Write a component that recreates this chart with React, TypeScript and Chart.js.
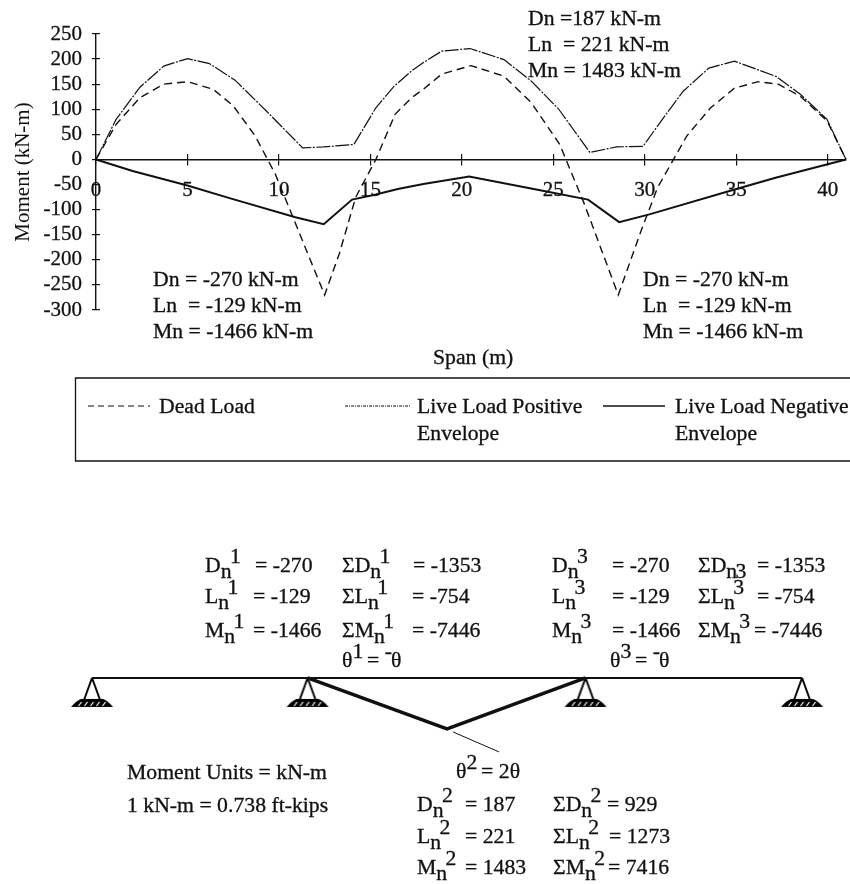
import React, { useEffect, useRef } from "react";
import { Chart, registerables } from "chart.js";

Chart.register(...registerables);

// ---- Moment diagram data (x = span in m, y = moment in kN-m) ----
const deadX = [0, 1.1, 2.4, 3.7, 5, 6.4, 7.5, 8.7, 9.8, 10.7, 11.5, 12.5, 13.3, 14.2, 15.3, 16.35, 17.25, 17.9, 18.9, 20.5, 22.3, 23.8, 25.35, 26.7, 28.55, 29.8, 30.7, 32.3, 33.6, 34.9, 36.2, 37.3, 38.5, 39.96, 41];
const deadY = [0, 70, 123, 150, 155, 140, 107, 47, -29, -109, -181, -270, -188, -75, 0, 90, 123, 140, 170, 187, 166, 113, 30, -89, -270, -142, -56, 47, 103, 142, 155, 150, 126, 77, 0];
const livePosX = [0, 1.1, 2.4, 3.7, 5, 6.2, 7.6, 9.3, 11.3, 12.45, 14.1, 15.3, 16.3, 17.3, 17.9, 18.9, 20.45, 22.3, 23.8, 25.3, 27, 28.45, 29.9, 31.1, 32.1, 33.5, 34.9, 37.2, 38.5, 39.96, 41];
const livePosY = [0, 80, 144, 186, 201, 191, 158, 97, 23, 25, 30, 103, 146, 178, 193, 216, 221, 199, 156, 100, 14, 25, 26, 87, 136, 182, 196, 165, 130, 80, 0];
const liveNegX = [0, 2, 5, 7.3, 10.9, 12.45, 14, 15.3, 16.5, 17.9, 20.4, 24.35, 26.9, 28.6, 30.3, 35, 37.2, 41];
const liveNegY = [0, -23, -52, -77, -115, -129, -80, -70, -59, -49, -34, -62, -80, -125, -109, -59, -36, 0];

const seriesNames = ["Dead Load", "Live Load Positive Envelope", "Live Load Negative Envelope"];
const legendLines = [["Dead Load"], ["Live Load Positive", "Envelope"], ["Live Load Negative", "Envelope"]];

// ---- Beam mechanism data (x = m along the beam, y = relative rotation drop) ----
const beamX = [0, 41];
const beamY = [0, 0];
const hingeX = [12.45, 20.5, 28.5];
const hingeY = [0, -1, 0];
const leaderX = [20.85, 23.5];
const leaderY = [-1.06, -1.45];
const supportX = [0, 12.45, 28.5, 41];
const supportY = [0, 0, 0, 0];

// ---- Annotations: [markup, left px, baseline px]; _x lowers a character, ^x raises it ----
const topNotes: [string, number, number][] = [
  ["Dn =187 kN-m", 528, 25],
  ["Ln  = 221 kN-m", 528, 51],
  ["Mn = 1483 kN-m", 528, 77],
  ["Dn = -270 kN-m", 153, 286],
  ["Ln  = -129 kN-m", 153, 312],
  ["Mn = -1466 kN-m", 153, 338],
  ["Dn = -270 kN-m", 643, 286],
  ["Ln  = -129 kN-m", 643, 312],
  ["Mn = -1466 kN-m", 643, 338],
];
const lowerNotes: [string, number, number][] = [
  ["D_n^1", 205, 572], ["= -270", 255, 572], ["ΣD_n^1", 342, 572], ["= -1353", 413, 572],
  ["L_n^1", 205, 603], ["= -129", 253, 603], ["ΣL_n^1", 342, 603], ["= -754", 412, 603],
  ["M_n^1", 205, 637], ["= -1466", 253, 637], ["ΣM_n^1", 342, 637], ["= -7446", 412, 637],
  ["θ^1 = ^-θ", 342, 667],
  ["D_n^3", 552, 572], ["= -270", 612, 572], ["ΣD_n_3", 698, 572], ["= -1353", 757, 572],
  ["L_n^3", 552, 603], ["= -129", 612, 603], ["ΣL_n^3", 698, 603], ["= -754", 757, 603],
  ["M_n^3", 552, 637], ["= -1466", 612, 637], ["ΣM_n^3", 698, 637], ["= -7446", 754, 637],
  ["θ^3 = ^-θ", 610, 667],
  ["Moment Units = kN-m", 127, 779],
  ["1 kN-m = 0.738 ft-kips", 127, 812],
  ["θ^2 = 2θ", 456, 778],
  ["D_n^2", 417, 811], ["= 187", 465, 811], ["ΣD_n^2", 553, 811], ["= 929", 607, 811],
  ["L_n^2", 417, 843], ["= 221", 465, 843], ["ΣL_n^2", 553, 843], ["= 1273", 609, 843],
  ["M_n^2", 417, 874], ["= 1483", 465, 874], ["ΣM_n^2", 553, 874], ["= 7416", 608, 874],
];

const INK = "#111111";
const SERIF = '"Liberation Serif", "Times New Roman", serif';
const FONT = `20.5px ${SERIF}`;
const STRETCH = 1.06;

function drawRich(ctx: CanvasRenderingContext2D, text: string, x: number, y: number) {
  ctx.font = FONT;
  ctx.fillStyle = INK;
  ctx.strokeStyle = INK;
  ctx.lineWidth = 0.3;
  ctx.textAlign = "left";
  ctx.textBaseline = "alphabetic";
  let cx = x;
  for (let i = 0; i < text.length; i++) {
    let ch = text[i];
    let dy = 0;
    if ((ch === "_" || ch === "^") && i + 1 < text.length) {
      dy = ch === "_" ? 6 : -9;
      i++;
      ch = text[i];
    }
    ctx.save();
    ctx.translate(cx, y + dy);
    ctx.scale(STRETCH, 1);
    ctx.fillText(ch, 0, 0);
    ctx.strokeText(ch, 0, 0);
    ctx.restore();
    cx += ctx.measureText(ch).width * STRETCH * (dy !== 0 ? 0.85 : 1);
  }
}

const dashDead = [8, 5];
const dashPos = [14, 1.5, 2, 1.5];

const topAnnotations = {
  id: "topAnnotations",
  afterDraw(chart: Chart) {
    const ctx = chart.ctx;
    ctx.save();
    topNotes.forEach(([t, x, y]) => drawRich(ctx, t, x, y));
    drawRich(ctx, "Span (m)", 433, 364);
    // legend
    ctx.strokeStyle = INK;
    ctx.lineWidth = 1.3;
    ctx.setLineDash([]);
    ctx.beginPath();
    ctx.moveTo(850, 378);
    ctx.lineTo(75.5, 378);
    ctx.lineTo(75.5, 461);
    ctx.lineTo(850, 461);
    ctx.stroke();
    const sampleX = [[88, 150], [345, 410], [603, 665]];
    const textX = [159, 417, 675];
    chart.data.datasets.forEach((ds: any, i: number) => {
      ctx.strokeStyle = INK;
      ctx.lineWidth = i === 2 ? 1.5 : 1;
      ctx.setLineDash(i === 0 ? [6, 4] : i === 1 ? [3, 1, 1, 1] : []);
      ctx.beginPath();
      ctx.moveTo(sampleX[i][0], 406);
      ctx.lineTo(sampleX[i][1], 406);
      ctx.stroke();
      ctx.setLineDash([]);
      legendLines[i].forEach((line, k) => drawRich(ctx, line, textX[i], 413 + k * 27));
    });
    ctx.restore();
  },
};

const lowerOffset = 480;
const lowerAnnotations = {
  id: "lowerAnnotations",
  afterDraw(chart: Chart) {
    const ctx = chart.ctx;
    ctx.save();
    lowerNotes.forEach(([t, x, y]) => drawRich(ctx, t, x, y - lowerOffset));
    ctx.restore();
  },
};

function makeSupportIcon() {
  const c = document.createElement("canvas");
  c.width = 46;
  c.height = 64;
  const g = c.getContext("2d")!;
  const mid = 23;
  const top = 32;
  g.strokeStyle = "#000";
  g.fillStyle = "#000";
  g.lineWidth = 2;
  g.beginPath();
  g.moveTo(mid, top);
  g.lineTo(mid - 8, top + 22);
  g.moveTo(mid, top);
  g.lineTo(mid + 8, top + 22);
  g.stroke();
  g.beginPath();
  g.moveTo(mid - 21, top + 29);
  g.quadraticCurveTo(mid - 16, top + 23, mid - 11, top + 21);
  g.lineTo(mid + 11, top + 21);
  g.quadraticCurveTo(mid + 16, top + 23, mid + 21, top + 29);
  g.lineTo(mid + 14, top + 29);
  g.lineTo(mid - 14, top + 29);
  g.closePath();
  g.fill();
  g.strokeStyle = "#fff";
  g.lineWidth = 1.2;
  for (let k = -12; k <= 12; k += 6) {
    g.beginPath();
    g.moveTo(mid + k - 1.5, top + 28);
    g.lineTo(mid + k + 1.5, top + 24);
    g.stroke();
  }
  return c;
}

const pts = (xs: number[], ys: number[]) => xs.map((x, i) => ({ x, y: ys[i] }));
const tickNone = { display: false };
const fitX = (s: any) => { s.height = 0; s.paddingLeft = 0; s.paddingRight = 0; };
const fitY = (s: any) => { s.paddingTop = 0; s.paddingBottom = 0; };
const onlyFives = (s: any) => { s.ticks = s.ticks.filter((t: any) => t.value % 5 === 0); };

export default function App() {
  const topRef = useRef<HTMLCanvasElement>(null);
  const lowRef = useRef<HTMLCanvasElement>(null);

  useEffect(() => {
    document.body.style.margin = "0";
    document.body.style.background = "#fff";

    const base = { showLine: true, pointRadius: 0, borderColor: INK, fill: false, tension: 0 };
    const top = new Chart(topRef.current!, {
      type: "scatter",
      data: {
        datasets: [
          { ...base, label: seriesNames[0], data: pts(deadX, deadY), borderWidth: 1.4, borderDash: dashDead },
          { ...base, label: seriesNames[1], data: pts(livePosX, livePosY), borderWidth: 1.2, borderDash: dashPos },
          { ...base, label: seriesNames[2], data: pts(liveNegX, liveNegY), borderWidth: 2 },
        ],
      },
      options: {
        animation: false,
        responsive: false,
        layout: { autoPadding: false, padding: { left: 0, right: 4, top: 34, bottom: 170 } },
        plugins: { legend: { display: false }, tooltip: { enabled: false } },
        clip: false,
        scales: {
          x: {
            type: "linear",
            position: { y: 0 },
            bounds: "data",
            min: 0,
            max: 41,
            afterFit: fitX,
            afterBuildTicks: onlyFives,
            grid: { drawOnChartArea: false, drawTicks: true, tickLength: 5, color: INK, lineWidth: 1.2 },
            border: { color: INK, width: 1.6 },
            ticks: { stepSize: 5, maxRotation: 0, autoSkip: false, color: INK, padding: 13, font: { family: SERIF, size: 21 }, textStrokeColor: INK, textStrokeWidth: 0.3 },
          },
          y: {
            type: "linear",
            position: "left",
            bounds: "data",
            min: -300,
            max: 250,
            afterFit: (s: any) => { s.width = 96; fitY(s); },
            title: { display: true, text: "Moment (kN-m)", color: INK, font: { family: SERIF, size: 21 }, padding: { top: 11, bottom: 0 } },
            grid: { drawOnChartArea: false, drawTicks: true, tickLength: 4, color: INK, lineWidth: 1.2 },
            border: { color: INK, width: 1.4 },
            ticks: { stepSize: 50, autoSkip: false, color: INK, padding: 10, font: { family: SERIF, size: 21 }, textStrokeColor: INK, textStrokeWidth: 0.3 },
          },
          xUp: {
            type: "linear",
            axis: "x",
            position: { y: 0 },
            bounds: "data",
            min: 0,
            max: 41,
            afterFit: fitX,
            afterBuildTicks: onlyFives,
            grid: { drawOnChartArea: false, drawTicks: true, tickLength: -5, color: INK, lineWidth: 1.2 },
            border: { display: false },
            ticks: { stepSize: 5, ...tickNone },
          },
          yRight: {
            type: "linear",
            axis: "y",
            position: { x: 0 },
            bounds: "data",
            min: -300,
            max: 250,
            afterFit: (s: any) => { s.width = 0; fitY(s); },
            grid: { drawOnChartArea: false, drawTicks: true, tickLength: -4, color: INK, lineWidth: 1.2 },
            border: { display: false },
            ticks: { stepSize: 50, ...tickNone },
          },
        } as any,
      } as any,
      plugins: [topAnnotations],
    });

    const icon = makeSupportIcon();
    const low = new Chart(lowRef.current!, {
      type: "scatter",
      data: {
        datasets: [
          { ...base, label: "Beam", data: pts(beamX, beamY), borderWidth: 2 },
          { ...base, label: "Plastic mechanism", data: pts(hingeX, hingeY), borderWidth: 3.5 },
          { ...base, label: "Leader", data: pts(leaderX, leaderY), borderWidth: 1 },
          { label: "Supports", data: pts(supportX, supportY), pointStyle: icon as any, pointRadius: 5, showLine: false },
        ],
      },
      options: {
        animation: false,
        responsive: false,
        layout: { autoPadding: false, padding: 0 },
        plugins: { legend: { display: false }, tooltip: { enabled: false } },
        scales: {
          x: { type: "linear", display: false, bounds: "data", min: -5.3125, max: 43.77 },
          y: { type: "linear", display: false, bounds: "data", min: -4.04, max: 3.88 },
        },
      } as any,
      plugins: [lowerAnnotations],
    });

    return () => {
      top.destroy();
      low.destroy();
    };
  }, []);

  return (
    <div style={{ position: "relative", width: 850, height: 884, background: "#fff" }}>
      <canvas ref={topRef} width={850} height={480} style={{ position: "absolute", left: 0, top: 0, width: 850, height: 480 }} />
      <canvas ref={lowRef} width={850} height={404} style={{ position: "absolute", left: 0, top: 480, width: 850, height: 404 }} />
    </div>
  );
}
